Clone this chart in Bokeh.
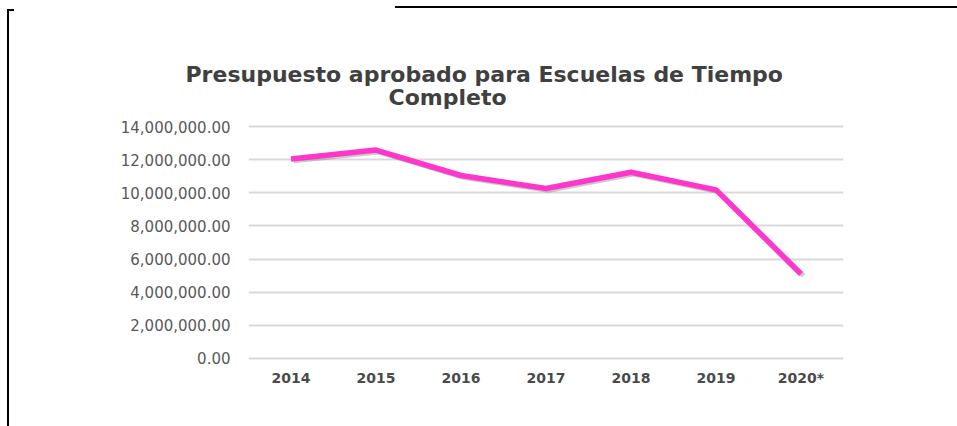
from bokeh.plotting import figure
from bokeh.models import (ColumnDataSource, FactorRange, Range1d, FixedTicker,
                          NumeralTickFormatter, Title, InlineStyleSheet)
from bokeh.transform import dodge
from bokeh.embed import file_html
from bokeh.resources import INLINE

# ---- data ----
years = ["2014", "2015", "2016", "2017", "2018", "2019", "2020*"]
budget = [12060000, 12600000, 11060000, 10270000, 11260000, 10190000, 5090000]
y_ticks = [0, 2000000, 4000000, 6000000, 8000000, 10000000, 12000000, 14000000]
title_line1 = "Presupuesto aprobado para Escuelas de Tiempo"
title_line2 = "Completo"

src = ColumnDataSource(dict(year=years, value=budget,
                            shadow=[v - 110000 for v in budget]))

W, H = 956, 425
p = figure(width=W, height=H, output_backend="svg", toolbar_location=None,
           x_range=FactorRange(factors=years, range_padding=0),
           y_range=Range1d(-150000, 14150000),
           min_border_left=248, min_border_right=113,
           min_border_top=124, min_border_bottom=65)
p.outline_line_color = None
p.background_fill_color = "white"
p.border_fill_color = "white"

# shadow + line
p.line(x=dodge("year", 0.03, range=p.x_range), y="shadow", source=src,
       line_color="#7a7a7a", line_alpha=0.4, line_width=5)
p.line(x="year", y="value", source=src, line_color="#FF36CC", line_width=5.5,
       line_join="round")

# axes
p.yaxis.ticker = FixedTicker(ticks=y_ticks)
p.yaxis.formatter = NumeralTickFormatter(format="0,0.00")
for ax in (p.xaxis[0], p.yaxis[0]):
    ax.axis_line_color = None
    ax.major_tick_line_color = None
    ax.minor_tick_line_color = None
    ax.major_tick_out = 0
    ax.major_tick_in = 0
p.yaxis.major_label_text_font = "DejaVu Sans"
p.yaxis.major_label_text_font_size = "15px"
p.yaxis.major_label_text_color = "#595959"
p.yaxis.major_label_standoff = 18
p.xaxis.major_label_text_font = "DejaVu Sans"
p.xaxis.major_label_text_font_size = "14px"
p.xaxis.major_label_text_font_style = "bold"
p.xaxis.major_label_text_color = "#4a4a4a"
p.xaxis.major_label_standoff = 9

p.xgrid.grid_line_color = None
p.ygrid.grid_line_color = "#d9d9d9"
p.ygrid.grid_line_width = 2

# title lines
t2 = Title(text=title_line2, align="left", offset=140, standoff=30,
           text_font="DejaVu Sans", text_font_style="bold",
           text_font_size="22px", text_color="#404040")
t1 = Title(text=title_line1, align="left", offset=-63, standoff=-39,
           text_font="DejaVu Sans", text_font_style="bold",
           text_font_size="22px", text_color="#404040")
p.add_layout(t2, "above")
p.add_layout(t1, "above")

# frame lines from the scanned page (CSS on the plot host)
p.stylesheets = [InlineStyleSheet(css="""
:host { position: relative; }
:host::before { content: ""; position: absolute; left: 7px; top: 9px;
  width: 5px; height: 420px; border-left: 2px solid #000;
  border-top: 2px solid #000; z-index: 10; pointer-events: none; }
:host::after { content: ""; position: absolute; left: 395px; top: 6px;
  width: 562px; height: 2px; background: #000; z-index: 10;
  pointer-events: none; }
""")]

open("out.html", "w").write(file_html(p, INLINE))
